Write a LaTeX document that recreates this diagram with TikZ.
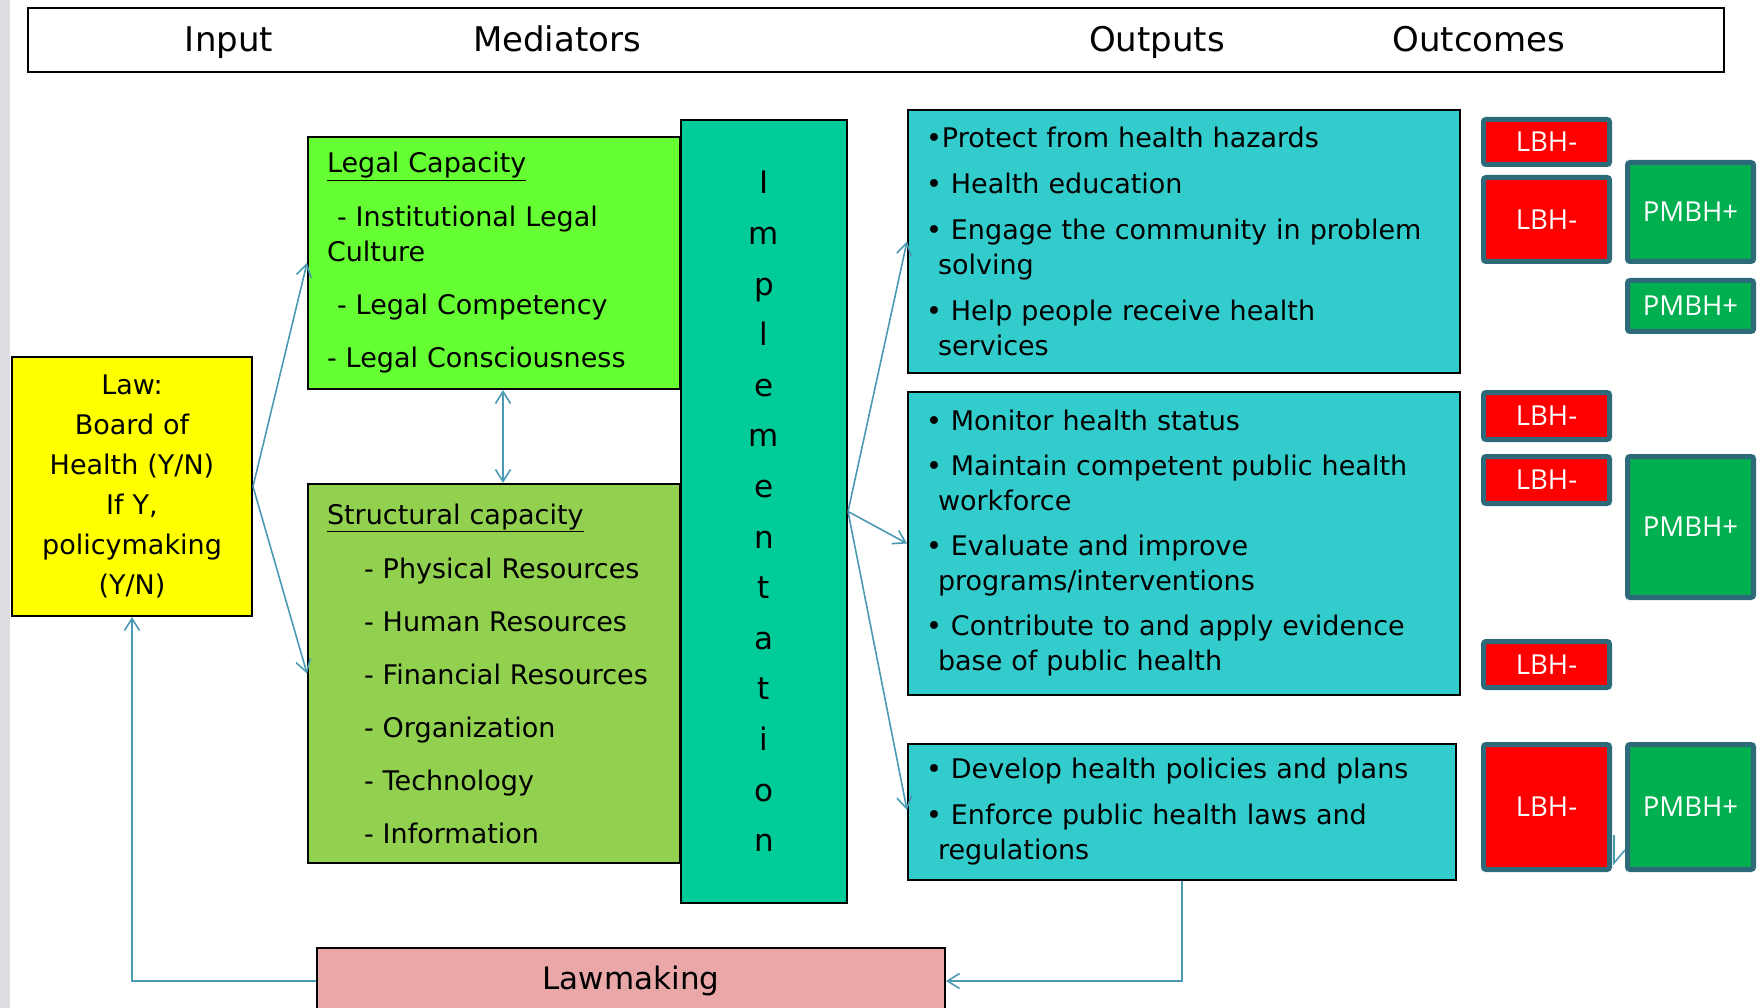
\documentclass[tikz,border=0pt]{standalone}
\usepackage{fontspec}
\setmainfont{DejaVu Sans}
\newfontfamily\tagfont{Open Sans}
\usepackage{tikz}
\usetikzlibrary{positioning,arrows.meta}

\definecolor{legalgreen}{HTML}{66FF33}
\definecolor{structgreen}{HTML}{92D050}
\definecolor{implgreen}{HTML}{00CC99}
\definecolor{outcyan}{HTML}{33CCCC}
\definecolor{lawyellow}{HTML}{FFFF00}
\definecolor{lawpink}{HTML}{E9A7A7}
\definecolor{linkblue}{HTML}{4A9AB4}
\definecolor{tagborder}{HTML}{2D6B7B}
\definecolor{tagred}{HTML}{FF0000}
\definecolor{taggreen}{HTML}{00B050}
\definecolor{stripgray}{HTML}{DCDCE2}

\begin{document}
\begin{tikzpicture}[x=1pt,y=-1pt,>={Straight Barb[length=12pt,width=15pt]},
    box/.style={rectangle,draw=black,line width=2pt,anchor=north west},
    txt/.style={font=\fontsize{27}{35}\selectfont},
    head/.style={anchor=base,font=\fontsize{34}{40}\selectfont},
    link/.style={draw=linkblue,line width=1.6pt},
    tag/.style={rectangle,draw=tagborder,line width=5pt,rounded corners=2.5pt,
      text=white,inner sep=2pt,minimum width=126pt,
      font=\tagfont\fontsize{27.5}{32}\selectfont},
    lbh/.style={tag,fill=tagred},
    pmbh/.style={tag,fill=taggreen}]
      \useasboundingbox (0,0) rectangle (1762,1008);
      \fill[stripgray] (0,0) rectangle (10,1008);

      % header row
      \node[box,minimum width=1696pt,minimum height=64pt] (hdr) at (27,7) {};
      \node[head] (hinput) at (229,52) {Input};
      \node[head] (hmed) at (557,52) {Mediators};
      \node[head] (hout) at (1157,52) {Outputs};
      \node[head] (hoc) at (1479,52) {Outcomes};

      % input and mediators
      \node[box,txt,fill=lawyellow,minimum width=240pt,minimum height=259pt,
        text width=220pt,inner xsep=10pt,align=center,
        font=\fontsize{27}{40}\selectfont] (law) at (11,356)
        {Law:\\Board of\\Health (Y/N)\\If Y,\\policymaking\\(Y/N)};
      \node[box,txt,fill=legalgreen,minimum width=372pt,minimum height=252pt,
        text width=334pt,inner xsep=19pt,align=left] (legal) at (307,136)
        {\underline{Legal Capacity}\\[19pt]
         \hspace*{10pt}- Institutional Legal\\
         Culture\\[18pt]
         \hspace*{10pt}- Legal Competency\\[18pt]
         - Legal Consciousness};
      \node[box,txt,fill=structgreen,minimum width=372pt,minimum height=379pt,
        text width=334pt,inner xsep=19pt,align=left] (struct) at (307,483)
        {\underline{Structural capacity}\\[19pt]
         \hspace*{37pt}- Physical Resources\\[18pt]
         \hspace*{37pt}- Human Resources\\[18pt]
         \hspace*{37pt}- Financial Resources\\[18pt]
         \hspace*{37pt}- Organization\\[18pt]
         \hspace*{37pt}- Technology\\[18pt]
         \hspace*{37pt}- Information};
      \node[box,fill=implgreen,minimum width=166pt,minimum height=783pt,
        align=center,font=\fontsize{31}{50.6}\selectfont] (impl) at (680,119)
        {I\\m\\p\\l\\e\\m\\e\\n\\t\\a\\t\\i\\o\\n};

      % outputs
      \node[box,txt,fill=outcyan,minimum width=552pt,minimum height=263pt,
        text width=516pt,inner xsep=18pt,align=left] (out1) at (907,109)
        {•Protect from health hazards\\[11pt]
         • Health education\\[11pt]
         • Engage the community in problem\\
         \hspace*{12pt}solving\\[11pt]
         • Help people receive health\\
         \hspace*{12pt}services};
      \node[box,txt,fill=outcyan,minimum width=552pt,minimum height=303pt,
        text width=516pt,inner xsep=18pt,align=left] (out2) at (907,391)
        {• Monitor health status\\[10pt]
         • Maintain competent public health\\
         \hspace*{12pt}workforce\\[10pt]
         • Evaluate and improve\\
         \hspace*{12pt}programs/interventions\\[10pt]
         • Contribute to and apply evidence\\
         \hspace*{12pt}base of public health};
      \node[box,txt,fill=outcyan,minimum width=548pt,minimum height=136pt,
        text width=512pt,inner xsep=18pt,align=left] (out3) at (907,743)
        {• Develop health policies and plans\\[11pt]
         • Enforce public health laws and\\
         \hspace*{12pt}regulations};

      % outcomes
      \node[lbh,minimum height=45pt] (lbh1) at (1546.5,142) {LBH-};
      \node[lbh,minimum height=84pt] (lbh2) at (1546.5,219.5) {LBH-};
      \node[pmbh,minimum height=99pt] (pmbh1) at (1690.5,212) {PMBH+};
      \node[pmbh,minimum height=51pt] (pmbh2) at (1690.5,306) {PMBH+};
      \node[lbh,minimum height=47pt] (lbh3) at (1546.5,416) {LBH-};
      \node[lbh,minimum height=47pt] (lbh4) at (1546.5,480) {LBH-};
      \node[pmbh,minimum height=141pt] (pmbh3) at (1690.5,527) {PMBH+};
      \node[lbh,minimum height=46pt] (lbh5) at (1546.5,664.5) {LBH-};
      \node[lbh,minimum height=125pt] (lbh6) at (1546.5,807) {LBH-};
      \node[pmbh,minimum height=125pt,right=13pt of lbh6] (pmbh4) {PMBH+};

      % feedback
      \node[box,fill=lawpink,minimum width=628pt,minimum height=66pt,
        font=\fontsize{31}{36}\selectfont] (lawmk) at (316,947) {Lawmaking};

      \draw[link,->] (law.east) -- (legal.west);
      \draw[link,->] (law.east) -- (struct.west);
      \draw[link,<->] ([xshift=9pt]legal.south) -- ([xshift=9pt]struct.north);
      \draw[link,->] (impl.east) -- (out1.west);
      \draw[link,->] (impl.east) -- (out2.west);
      \draw[link,->] (impl.east) -- ([yshift=2pt]out3.west);
      \draw[link,->] (out3.south) |- (lawmk.east);
      \draw[link,->] (lawmk.west) -| (law.south);
      \draw[link] ([xshift=2pt,yshift=-28pt]lbh6.east) -- ([xshift=2pt,yshift=-56pt]lbh6.east)
        -- ([yshift=-43pt]pmbh4.west);
\end{tikzpicture}
\end{document}
